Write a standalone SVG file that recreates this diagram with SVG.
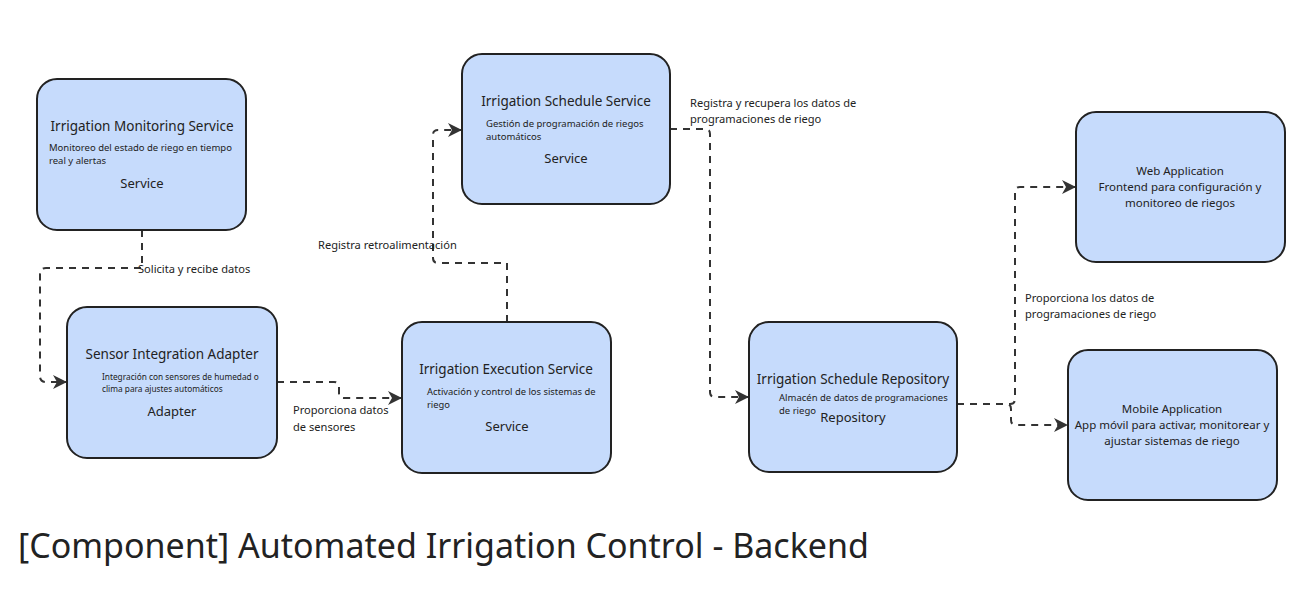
<svg xmlns="http://www.w3.org/2000/svg" width="1312" height="600" viewBox="0 0 1312 600">
<defs>
<marker id="arr" viewBox="0 0 14 14" refX="13" refY="7" markerWidth="14" markerHeight="14" markerUnits="userSpaceOnUse" orient="auto">
<path d="M0,0 L14,7 L0,14 L4,7 Z" fill="#333"/>
</marker>
</defs>
<style>
.box{fill:#c6dbfc;stroke:#222;stroke-width:2}
.t{font-family:"Noto Sans","Open Sans",sans-serif;fill:#222}
.ttl{font-size:13.5px;text-anchor:middle}
.typ{font-size:13px;text-anchor:middle}
.ds{font-size:9.5px}
.lbl{font-size:11.1px}
.ctr{font-size:11.5px;text-anchor:middle}
.edge{fill:none;stroke:#333;stroke-width:2;stroke-dasharray:7 6;stroke-linejoin:round}
</style>
<rect width="1312" height="600" fill="#fff"/>
<g id="edges">
<path class="edge" d="M142,230 V268 H46 Q40,268 40,274 V376 Q40,382 46,382 H66" marker-end="url(#arr)"/>
<path class="edge" d="M277,382 H334 Q339,382 339,387 V393 Q339,398 344,398 H401" marker-end="url(#arr)"/>
<path class="edge" d="M507,322 V263 H438 Q433,263 433,258 V135 Q433,130 438,130 H461" marker-end="url(#arr)"/>
<path class="edge" d="M670,129 H705 Q710,129 710,134 V392 Q710,397 715,397 H748" marker-end="url(#arr)"/>
<path class="edge" d="M957,404 H1010 Q1015,404 1015,399 V192 Q1015,187 1020,187 H1075" marker-end="url(#arr)"/>
<path class="edge" d="M957,404 H1006 Q1011,404 1011,409 V420 Q1011,425 1016,425 H1067" marker-end="url(#arr)"/>
</g>
<g id="edge-labels">
<text class="t lbl" x="138" y="273">Solicita y recibe datos</text>
<text class="t lbl" x="293" y="414">Proporciona datos</text>
<text class="t lbl" x="293" y="431">de sensores</text>
<text class="t lbl" x="318" y="249">Registra retroalimentación</text>
<text class="t lbl" x="690" y="107">Registra y recupera los datos de</text>
<text class="t lbl" x="690" y="123">programaciones de riego</text>
<text class="t lbl" x="1025" y="302">Proporciona los datos de</text>
<text class="t lbl" x="1025" y="318">programaciones de riego</text>
</g>
<g id="monitoring">
<rect class="box" x="37" y="79" width="209" height="151" rx="20"/>
<text class="t ttl" x="142" y="131">Irrigation Monitoring Service</text>
<text class="t ds" x="49" y="151">Monitoreo del estado de riego en tiempo</text>
<text class="t ds" x="49" y="164">real y alertas</text>
<text class="t typ" x="142" y="188">Service</text>
</g>
<g id="sensor">
<rect class="box" x="67" y="307" width="210" height="151" rx="20"/>
<text class="t ttl" x="172" y="359">Sensor Integration Adapter</text>
<text class="t ds" x="102" y="380" style="font-size:8.3px">Integración con sensores de humedad o</text>
<text class="t ds" x="102" y="392" style="font-size:8.3px">clima para ajustes automáticos</text>
<text class="t typ" x="172" y="416">Adapter</text>
</g>
<g id="schedule">
<rect class="box" x="462" y="54" width="208" height="150" rx="20"/>
<text class="t ttl" x="566" y="106">Irrigation Schedule Service</text>
<text class="t ds" x="486" y="127">Gestión de programación de riegos</text>
<text class="t ds" x="486" y="140">automáticos</text>
<text class="t typ" x="566" y="163">Service</text>
</g>
<g id="execution">
<rect class="box" x="402" y="322" width="209" height="151" rx="20"/>
<text class="t ttl" x="506" y="374">Irrigation Execution Service</text>
<text class="t ds" x="427" y="395" style="font-size:9.4px">Activación y control de los sistemas de</text>
<text class="t ds" x="427" y="408" style="font-size:9.4px">riego</text>
<text class="t typ" x="507" y="431">Service</text>
</g>
<g id="repository">
<rect class="box" x="749" y="322" width="208" height="150" rx="20"/>
<text class="t ttl" x="853" y="384">Irrigation Schedule Repository</text>
<text class="t ds" x="779" y="401">Almacén de datos de programaciones</text>
<text class="t ds" x="779" y="414">de riego</text>
<text class="t typ" x="853" y="422">Repository</text>
</g>
<g id="webapp">
<rect class="box" x="1076" y="112" width="209" height="150" rx="20"/>
<text class="t ctr" x="1180" y="175">Web Application</text>
<text class="t ctr" x="1180" y="191">Frontend para configuración y</text>
<text class="t ctr" x="1180" y="207">monitoreo de riegos</text>
</g>
<g id="mobile">
<rect class="box" x="1068" y="350" width="209" height="150" rx="20"/>
<text class="t ctr" x="1172" y="413">Mobile Application</text>
<text class="t ctr" x="1172" y="429">App móvil para activar, monitorear y</text>
<text class="t ctr" x="1172" y="445">ajustar sistemas de riego</text>
</g>
<text class="t" x="18" y="558" style="font-size:34px">[Component] Automated Irrigation Control - Backend</text>
</svg>
